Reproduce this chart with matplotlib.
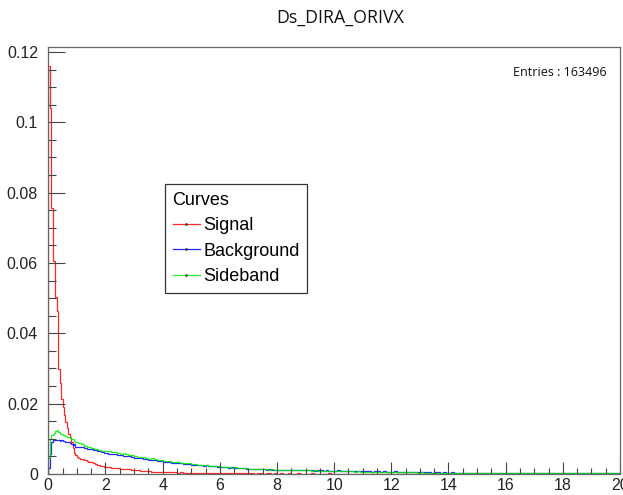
import numpy as np
import matplotlib
matplotlib.use("Agg")
import matplotlib.pyplot as plt
from matplotlib.lines import Line2D
from matplotlib.ticker import MultipleLocator, FuncFormatter

# ---------------- data ----------------
title = "Ds_DIRA_ORIVX"
entries_text = "Entries : 163496"
legend_title = "Curves"
series_names = ["Signal", "Background", "Sideband"]
series_colors = ["#ff0000", "#0000ff", "#00ee00"]
x_range = (0, 20)
y_range = (0, 0.1215)
fine_start, fine_stop, fine_bins = 0.0, 2.0, 40        # 0.05 wide bins
coarse_start, coarse_stop, coarse_bins = 2.0, 20.0, 180  # 0.1 wide bins

signal_fine = [0.1160, 0.1040, 0.0757, 0.0605, 0.0605, 0.0502, 0.0463, 0.0298, 0.0260, 0.0213,
               0.0190, 0.0168, 0.0148, 0.0130, 0.0115, 0.0104, 0.0090, 0.0075, 0.0061, 0.0053,
               0.0047, 0.0045, 0.0044, 0.0043, 0.0042, 0.0041, 0.0039, 0.0037, 0.0035, 0.0034,
               0.0033, 0.0031, 0.0030, 0.0028, 0.0027, 0.0026, 0.0024, 0.0023, 0.0022, 0.0021]
signal_coarse = [0.0020, 0.0019, 0.0018, 0.0017, 0.0016, 0.0015, 0.0014, 0.0013, 0.0013, 0.0012,
                 0.0010, 0.0010, 0.0009, 0.0009, 0.0008, 0.0008, 0.0007, 0.0007, 0.0007, 0.0006,
                 0.0006, 0.0005, 0.0006, 0.0005, 0.0005, 0.0004, 0.0005, 0.0004, 0.0004, 0.0004,
                 0.0004, 0.0003, 0.0004, 0.0003, 0.0003, 0.0003, 0.0003, 0.0003, 0.0002, 0.0003,
                 0.0002, 0.0003, 0.0002, 0.0002, 0.0002, 0.0003, 0.0002, 0.0002, 0.0002, 0.0002,
                 0.0002, 0.0002, 0.0001, 0.0002, 0.0002, 0.0001, 0.0002, 0.0002, 0.0001, 0.0002,
                 0.0001, 0.0002, 0.0001, 0.0001, 0.0002, 0.0001, 0.0001, 0.0002, 0.0001, 0.0001,
                 0.0001, 0.0001, 0.0002, 0.0001, 0.0001, 0.0001, 0.0001, 0.0001, 0.0002, 0.0001,
                 0.0001, 0.0001, 0.0001, 0.0001, 0.0001, 0.0000, 0.0001, 0.0001, 0.0001, 0.0001,
                 0.0001, 0.0001, 0.0000, 0.0001, 0.0001, 0.0001, 0.0000, 0.0001, 0.0001, 0.0000,
                 0.0001, 0.0000, 0.0001, 0.0001, 0.0000, 0.0001, 0.0000, 0.0000, 0.0001, 0.0000,
                 0.0000, 0.0001, 0.0000, 0.0000, 0.0001, 0.0000, 0.0000, 0.0000, 0.0001, 0.0000,
                 0.0000, 0.0000, 0.0000, 0.0001, 0.0000, 0.0000, 0.0000, 0.0000, 0.0000, 0.0000,
                 0.0000, 0.0000, 0.0000, 0.0000, 0.0000, 0.0000, 0.0001, 0.0000, 0.0000, 0.0000,
                 0.0000, 0.0000, 0.0000, 0.0000, 0.0000, 0.0000, 0.0000, 0.0000, 0.0000, 0.0000,
                 0.0000, 0.0000, 0.0000, 0.0000, 0.0000, 0.0000, 0.0000, 0.0000, 0.0000, 0.0000,
                 0.0000, 0.0000, 0.0000, 0.0000, 0.0000, 0.0000, 0.0000, 0.0000, 0.0000, 0.0000,
                 0.0000, 0.0000, 0.0000, 0.0000, 0.0000, 0.0000, 0.0000, 0.0000, 0.0000, 0.0000]

background_fine = [0.0016, 0.0058, 0.0090, 0.0097, 0.0098, 0.0097, 0.0098, 0.0096, 0.0095, 0.0096,
                   0.0094, 0.0093, 0.0092, 0.0090, 0.0091, 0.0088, 0.0086, 0.0083, 0.0084, 0.0077,
                   0.0076, 0.0078, 0.0077, 0.0078, 0.0076, 0.0075, 0.0073, 0.0072, 0.0072, 0.0071,
                   0.0070, 0.0069, 0.0068, 0.0067, 0.0066, 0.0066, 0.0064, 0.0063, 0.0062, 0.0061]
background_coarse = [0.0060, 0.0058, 0.0057, 0.0056, 0.0054, 0.0055, 0.0052, 0.0051, 0.0050, 0.0049,
                     0.0046, 0.0045, 0.0046, 0.0043, 0.0042, 0.0041, 0.0040, 0.0039, 0.0038, 0.0036,
                     0.0034, 0.0035, 0.0033, 0.0032, 0.0031, 0.0032, 0.0030, 0.0029, 0.0028, 0.0029,
                     0.0027, 0.0026, 0.0027, 0.0025, 0.0024, 0.0025, 0.0023, 0.0022, 0.0023, 0.0021,
                     0.0020, 0.0021, 0.0019, 0.0018, 0.0019, 0.0017, 0.0018, 0.0016, 0.0017, 0.0015,
                     0.0015, 0.0014, 0.0015, 0.0013, 0.0014, 0.0013, 0.0012, 0.0013, 0.0012, 0.0012,
                     0.0012, 0.0011, 0.0012, 0.0011, 0.0010, 0.0011, 0.0011, 0.0010, 0.0011, 0.0010,
                     0.0010, 0.0011, 0.0010, 0.0009, 0.0010, 0.0010, 0.0009, 0.0010, 0.0009, 0.0009,
                     0.0009, 0.0010, 0.0009, 0.0008, 0.0009, 0.0009, 0.0008, 0.0009, 0.0008, 0.0008,
                     0.0008, 0.0009, 0.0008, 0.0007, 0.0008, 0.0008, 0.0007, 0.0008, 0.0007, 0.0007,
                     0.0007, 0.0008, 0.0006, 0.0007, 0.0006, 0.0007, 0.0006, 0.0006, 0.0005, 0.0006,
                     0.0005, 0.0006, 0.0005, 0.0005, 0.0004, 0.0005, 0.0005, 0.0004, 0.0005, 0.0004,
                     0.0004, 0.0005, 0.0004, 0.0004, 0.0003, 0.0004, 0.0004, 0.0003, 0.0004, 0.0004,
                     0.0003, 0.0004, 0.0003, 0.0004, 0.0003, 0.0003, 0.0004, 0.0003, 0.0003, 0.0003,
                     0.0003, 0.0004, 0.0003, 0.0003, 0.0002, 0.0003, 0.0003, 0.0004, 0.0003, 0.0002,
                     0.0003, 0.0002, 0.0003, 0.0003, 0.0002, 0.0003, 0.0002, 0.0003, 0.0002, 0.0003,
                     0.0002, 0.0003, 0.0002, 0.0002, 0.0003, 0.0002, 0.0002, 0.0003, 0.0002, 0.0002,
                     0.0002, 0.0002, 0.0003, 0.0002, 0.0002, 0.0002, 0.0003, 0.0002, 0.0002, 0.0002]

sideband_fine = [0.0045, 0.0100, 0.0110, 0.0115, 0.0118, 0.0121, 0.0124, 0.0119, 0.0115, 0.0113,
                 0.0111, 0.0110, 0.0107, 0.0106, 0.0104, 0.0103, 0.0100, 0.0099, 0.0095, 0.0091,
                 0.0090, 0.0089, 0.0087, 0.0086, 0.0085, 0.0081, 0.0079, 0.0078, 0.0077, 0.0076,
                 0.0075, 0.0074, 0.0072, 0.0071, 0.0070, 0.0069, 0.0067, 0.0066, 0.0065, 0.0064]
sideband_coarse = [0.0065, 0.0064, 0.0062, 0.0063, 0.0060, 0.0058, 0.0059, 0.0056, 0.0055, 0.0054,
                   0.0050, 0.0049, 0.0048, 0.0047, 0.0046, 0.0044, 0.0045, 0.0042, 0.0041, 0.0040,
                   0.0037, 0.0036, 0.0036, 0.0034, 0.0033, 0.0034, 0.0032, 0.0031, 0.0030, 0.0030,
                   0.0028, 0.0028, 0.0027, 0.0026, 0.0025, 0.0026, 0.0024, 0.0023, 0.0023, 0.0022,
                   0.0021, 0.0020, 0.0020, 0.0019, 0.0018, 0.0019, 0.0017, 0.0017, 0.0016, 0.0016,
                   0.0015, 0.0015, 0.0014, 0.0014, 0.0013, 0.0014, 0.0013, 0.0012, 0.0013, 0.0012,
                   0.0012, 0.0012, 0.0011, 0.0011, 0.0011, 0.0010, 0.0011, 0.0010, 0.0010, 0.0010,
                   0.0010, 0.0010, 0.0009, 0.0010, 0.0009, 0.0009, 0.0009, 0.0009, 0.0008, 0.0009,
                   0.0009, 0.0008, 0.0009, 0.0008, 0.0008, 0.0008, 0.0008, 0.0007, 0.0008, 0.0007,
                   0.0007, 0.0007, 0.0007, 0.0007, 0.0006, 0.0007, 0.0006, 0.0006, 0.0006, 0.0006,
                   0.0006, 0.0006, 0.0005, 0.0006, 0.0005, 0.0005, 0.0005, 0.0005, 0.0005, 0.0004,
                   0.0005, 0.0004, 0.0004, 0.0004, 0.0004, 0.0004, 0.0004, 0.0004, 0.0003, 0.0004,
                   0.0003, 0.0004, 0.0003, 0.0003, 0.0003, 0.0003, 0.0003, 0.0003, 0.0003, 0.0003,
                   0.0003, 0.0003, 0.0003, 0.0003, 0.0003, 0.0003, 0.0002, 0.0003, 0.0003, 0.0003,
                   0.0003, 0.0002, 0.0003, 0.0002, 0.0003, 0.0002, 0.0003, 0.0002, 0.0002, 0.0003,
                   0.0002, 0.0003, 0.0002, 0.0002, 0.0003, 0.0002, 0.0002, 0.0003, 0.0002, 0.0002,
                   0.0002, 0.0003, 0.0002, 0.0002, 0.0002, 0.0003, 0.0002, 0.0002, 0.0002, 0.0002,
                   0.0002, 0.0002, 0.0002, 0.0003, 0.0002, 0.0002, 0.0002, 0.0002, 0.0002, 0.0002]

# ---------------- figure ----------------
W, H, DPI = 623, 495, 100
fig = plt.figure(figsize=(W / DPI, H / DPI), dpi=DPI, facecolor="white")
ax_left, ax_right, ax_top, ax_bottom = 48.3, 620.0, 46.7, 474.0
ax = fig.add_axes([ax_left / W, 1 - ax_bottom / H, (ax_right - ax_left) / W, (ax_bottom - ax_top) / H])

edges = np.concatenate([np.linspace(fine_start, fine_stop, fine_bins + 1),
                        np.linspace(coarse_start, coarse_stop, coarse_bins + 1)[1:]])
all_series = [signal_fine + signal_coarse,
              background_fine + background_coarse,
              sideband_fine + sideband_coarse]

for vals, col in zip(all_series, series_colors):
    ax.stairs(np.array(vals), edges, color=col, linewidth=0.9, alpha=0.85)

ax.set_xlim(*x_range)
ax.set_ylim(*y_range)

for s in ax.spines.values():
    s.set_color("#666666")
    s.set_linewidth(0.9)

ax.xaxis.set_major_locator(MultipleLocator(2))
ax.xaxis.set_minor_locator(MultipleLocator(0.5))
ax.yaxis.set_major_locator(MultipleLocator(0.02))
ax.yaxis.set_minor_locator(MultipleLocator(0.005))
ax.yaxis.set_major_formatter(FuncFormatter(lambda v, p: "%g" % round(v, 4)))
ax.xaxis.set_major_formatter(FuncFormatter(lambda v, p: "%g" % round(v, 4)))
ax.tick_params(axis="x", which="major", direction="in", length=8.6, width=0.8, color="#444444",
               pad=3, labelcolor="#222222", top=False)
ax.tick_params(axis="x", which="minor", direction="in", length=4.3, width=0.8, color="#444444", top=False)
ax.tick_params(axis="y", which="major", direction="in", length=12.2, width=0.8, color="#444444",
               pad=7.5, labelcolor="#222222", right=False)
ax.tick_params(axis="y", which="minor", direction="in", length=5.8, width=0.8, color="#444444", right=False)
for lab in ax.get_xticklabels() + ax.get_yticklabels():
    lab.set_fontfamily("Liberation Sans")
    lab.set_fontsize(11.5)

fig.text(340 / W, 1 - 18 / H, title, ha="center", va="center", fontsize=12.8,
         family="Open Sans", color="#111111")
fig.text(607 / W, 1 - 72 / H, entries_text, ha="right", va="center", fontsize=9,
         family="Open Sans", color="#111111")

handles = [Line2D([], [], color=c, linewidth=0.9, alpha=0.85, marker=".", markersize=2,
                  markerfacecolor="#333333", markeredgecolor="#333333")
           for c in series_colors]
leg = ax.legend(handles, series_names, title=legend_title, loc="upper left",
                bbox_to_anchor=(165 / W, 1 - 184 / H), bbox_transform=fig.transFigure,
                borderaxespad=0, frameon=True, fancybox=False, shadow=False,
                prop=dict(family="Liberation Sans", size=13),
                title_fontproperties=dict(family="Liberation Sans", size=13),
                handlelength=1.5, handletextpad=0.2, labelspacing=0.47, borderpad=0.42,
                alignment="left", numpoints=1)
leg.get_frame().set_edgecolor("#333333")
leg.get_frame().set_linewidth(0.9)
leg.get_frame().set_alpha(1)

fig.savefig("out.png", dpi=DPI, facecolor="white")
